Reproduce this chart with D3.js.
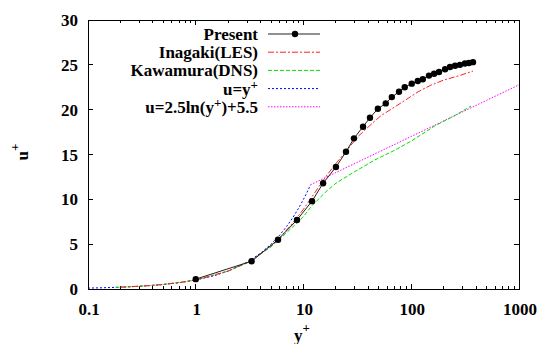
<!DOCTYPE html>
<html><head><meta charset="utf-8">
<script src="https://cdn.jsdelivr.net/npm/d3@7"></script>
<style>
html,body{margin:0;padding:0;background:#fff;}
svg{display:block;}
svg text{font-family:"Liberation Serif","DejaVu Serif",serif;font-weight:bold;fill:#000;}
</style></head>
<body>
<svg id="c" width="542" height="344"></svg>
<script>
// ---- data ----
const xTicks = [0.1, 1, 10, 100, 1000];
const xTickLabels = ["0.1", "1", "10", "100", "1000"];
const yTicks = [0, 5, 10, 15, 20, 25, 30];
const yTickLabels = ["0", "5", "10", "15", "20", "25", "30"];

const present = [[1,1.1],[3.3,3.1],[5.8,5.5],[8.7,7.7],[12,9.8],[15.2,11.8],[20,13.6],[24.8,15.3],
  [29.4,16.8],[35.7,18.1],[41.4,19.1],[49,20.1],[58,20.7],[66,21.4],[77,22.0],[87,22.5],[101,22.9],
  [115,23.2],[128,23.4],[146,23.8],[163,24.0],[181,24.2],[206,24.5],[229,24.75],[255,24.9],[283,25.0],
  [315,25.15],[343,25.2],[374,25.3]];
const inagaki = [[0.2,0.2],[0.4,0.4],[0.7,0.7],[1,1.0],[2,2.0],[3.3,3.2],[5.5,5.2],[8,7.4],[10,8.9],
  [12.5,10.6],[15,12.0],[17,12.9],[20,14.0],[25,15.4],[32,17.0],[41,18.2],[52,19.3],[70,20.3],[84,20.9],
  [116,22.0],[150,22.7],[200,23.3],[280,23.8],[374,24.3]];
const kawamura = [[0.18,0.18],[0.3,0.3],[0.5,0.5],[1,1.0],[2,2.0],[3,2.9],[5,4.7],[7,6.3],[9.7,7.9],
  [12,9.3],[16,10.8],[20,11.8],[30,13.1],[46,14.4],[71,15.5],[100,16.5],[166,18.2],[250,19.3],[358,20.4]];
const linear = [[0.1,0.1],[0.15,0.15],[0.2,0.2],[0.3,0.3],[0.5,0.5],[0.7,0.7],[1,1],[1.5,1.5],[2,2],
  [3,3],[4,4],[5,5],[6,6],[7,7],[8,8],[9,9],[10,10],[11,11],[11.6,11.6]];
const logLaw = [[11.6,11.62],[20,12.99],[50,15.28],[100,17.01],[200,18.75],[500,21.04],[1000,22.77]];

// ---- layout ----
const L = 88, R = 519, T = 20, B = 289;
const FS = "17px", SUP = "13px";
const svg = d3.select("#c");
const x = d3.scaleLog().domain([0.1, 1000]).range([L, R]);
const y = d3.scaleLinear().domain([0, 30]).range([B, T]);

// frame
svg.append("rect").attr("x", L).attr("y", T).attr("width", R - L).attr("height", B - T)
  .attr("fill", "none").attr("stroke", "#000").attr("stroke-width", 1).attr("shape-rendering","crispEdges");

// ticks
const g = svg.append("g").attr("stroke", "#000").attr("stroke-width", 1).attr("shape-rendering","crispEdges");
const minor = [];
for (let d = 0.1; d < 1000; d *= 10) for (let k = 2; k <= 9; k++) minor.push(d * k);
minor.forEach(v => {
  g.append("line").attr("x1", x(v)).attr("x2", x(v)).attr("y1", B).attr("y2", B - 3);
  g.append("line").attr("x1", x(v)).attr("x2", x(v)).attr("y1", T).attr("y2", T + 3);
});
xTicks.forEach(v => {
  g.append("line").attr("x1", x(v)).attr("x2", x(v)).attr("y1", B).attr("y2", B - 5);
  g.append("line").attr("x1", x(v)).attr("x2", x(v)).attr("y1", T).attr("y2", T + 5);
});
yTicks.forEach(v => {
  g.append("line").attr("x1", L).attr("x2", L + 5).attr("y1", y(v)).attr("y2", y(v));
  g.append("line").attr("x1", R).attr("x2", R - 5).attr("y1", y(v)).attr("y2", y(v));
});

// tick labels
xTicks.forEach((v, i) => {
  svg.append("text").attr("x", x(v) + 1).attr("y", 315).attr("text-anchor", "middle")
    .style("font-size", FS).text(xTickLabels[i]);
});
yTicks.forEach((v, i) => {
  svg.append("text").attr("x", 78).attr("y", y(v) + 6).attr("text-anchor", "end")
    .style("font-size", FS).text(yTickLabels[i]);
});

// axis titles
const xt = svg.append("text").attr("x", 302).attr("y", 341).attr("text-anchor", "middle").style("font-size", FS);
xt.append("tspan").text("y");
xt.append("tspan").attr("dy", -9).style("font-size", SUP).text("+");
const yt = svg.append("text").attr("transform", "translate(28,152) rotate(-90)").attr("text-anchor", "middle").style("font-size", FS);
yt.append("tspan").text("u");
yt.append("tspan").attr("dy", -9).style("font-size", SUP).text("+");

// series
const line = d3.line().x(d => x(d[0])).y(d => y(d[1]));
const styles = [
  {data: logLaw,  color: "#ff00ff", dash: "1.5,1.5"},
  {data: linear,  color: "#0000ff", dash: "2,2"},
  {data: kawamura,color: "#00e000", dash: "4,2"},
  {data: inagaki, color: "#ff2020", dash: "6,2,2,2"},
];
styles.forEach(s => {
  svg.append("path").attr("d", line(s.data)).attr("fill", "none")
    .attr("stroke", s.color).attr("stroke-width", 1).attr("stroke-dasharray", s.dash);
});
svg.append("path").attr("d", line(present)).attr("fill", "none").attr("stroke", "#222").attr("stroke-width", 1);
svg.selectAll("circle.p").data(present).enter().append("circle").attr("class", "p")
  .attr("cx", d => x(d[0])).attr("cy", d => y(d[1])).attr("r", 3.2).attr("fill", "#000");

// legend
const legend = [
  {label: ["Present"], color: "#222", dash: null, marker: true},
  {label: ["Inagaki(LES)"], color: "#ff2020", dash: "6,2,2,2"},
  {label: ["Kawamura(DNS)"], color: "#00e000", dash: "4,2"},
  {label: ["u=y", "+"], color: "#0000ff", dash: "2,2"},
  {label: ["u=2.5ln(y", "+", ")+5.5"], color: "#ff00ff", dash: "1.5,1.5"},
];
legend.forEach((e, i) => {
  const cy = 34 + i * 18.2;
  const t = svg.append("text").attr("x", 258).attr("y", cy + 6).attr("text-anchor", "end").style("font-size", FS);
  e.label.forEach((s, j) => {
    if (s === "+") t.append("tspan").attr("dy", -6).style("font-size", SUP).text("+");
    else t.append("tspan").attr("dy", j > 0 ? 6 : 0).text(s);
  });
  const ln = svg.append("line").attr("x1", 268).attr("x2", 320).attr("y1", cy).attr("y2", cy)
    .attr("stroke", e.color).attr("stroke-width", 1);
  if (e.dash) ln.attr("stroke-dasharray", e.dash);
  if (e.marker) svg.append("circle").attr("cx", 295).attr("cy", cy).attr("r", 3.2).attr("fill", "#000");
});
</script>
</body></html>
